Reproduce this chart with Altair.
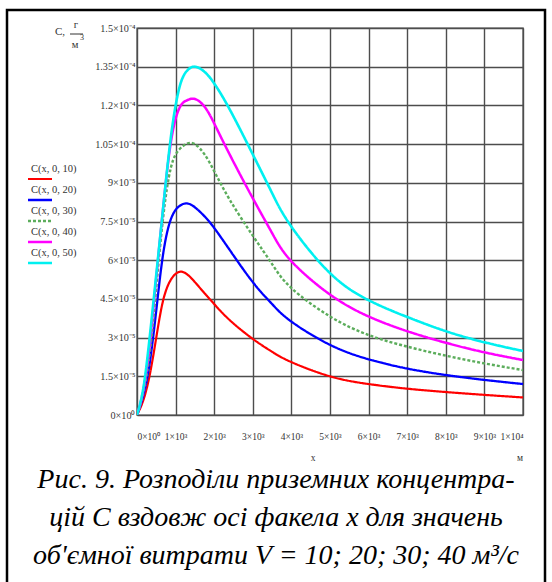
import altair as alt
import pandas as pd

# distance along plume axis, m
x_m = [0, 170, 340, 510, 680, 880, 1100, 1300, 1500, 1750, 2000, 2400, 3000, 3500,
       4000, 5000, 6000, 7000, 8000, 9000, 10000]
# ground concentrations, units of 1e-5 g/m^3
c10 = [0, 0.6, 1.63, 3.1, 4.46, 5.25, 5.55, 5.45, 5.15, 4.72, 4.3, 3.68, 2.95, 2.45,
       2.05, 1.5, 1.2, 1.02, 0.89, 0.78, 0.68]
c20 = [0, 0.8, 2.13, 4.2, 6.27, 7.6, 8.1, 8.2, 8.05, 7.7, 7.25, 6.4, 5.15, 4.3,
       3.62, 2.72, 2.16, 1.8, 1.55, 1.36, 1.2]
c30 = [0, 0.9, 2.52, 5.1, 7.69, 9.6, 10.3, 10.52, 10.5, 10.1, 9.45, 8.35, 6.95, 5.85,
       4.92, 3.82, 3.1, 2.65, 2.3, 2.0, 1.74]
c40 = [0, 1.0, 2.91, 5.5, 8.07, 10.6, 11.9, 12.2, 12.25, 11.95, 11.3, 10.1, 8.4, 7.05,
       5.96, 4.67, 3.82, 3.25, 2.8, 2.43, 2.13]
c50 = [0, 1.1, 3.17, 5.6, 8.07, 10.8, 12.7, 13.35, 13.5, 13.3, 12.85, 11.85, 10.1, 8.6,
       7.3, 5.5, 4.45, 3.8, 3.25, 2.82, 2.48]

series_names = ["C(x, 0, 10)", "C(x, 0, 20)", "C(x, 0, 30)", "C(x, 0, 40)", "C(x, 0, 50)"]
series_colors = ["#ff0000", "#0000ff", "#5cad5c", "#ff00ff", "#00f0f0"]
series_dash = [[1, 0], [1, 0], [3, 2], [1, 0], [1, 0]]
series_width = [2.2, 2.6, 1.1, 2.6, 2.6]

y_ticks = [0, 1.5, 3, 4.5, 6, 7.5, 9, 10.5, 12, 13.5, 15]
y_labels = ["0×10⁰", "1.5×10⁻⁵", "3×10⁻⁵", "4.5×10⁻⁵", "6×10⁻⁵", "7.5×10⁻⁵",
            "9×10⁻⁵", "1.05×10⁻⁴", "1.2×10⁻⁴", "1.35×10⁻⁴", "1.5×10⁻⁴"]
x_ticks = [0, 1000, 2000, 3000, 4000, 5000, 6000, 7000, 8000, 9000, 10000]
x_labels = ["0×10⁰", "1×10³", "2×10³", "3×10³", "4×10³", "5×10³", "6×10³",
            "7×10³", "8×10³", "9×10³", "1×10⁴"]

caption = ["Рис. 9. Розподіли приземних концентра-",
           "цій C вздовж осі факела x для значень",
           "об'ємної витрати V = 10; 20; 30; 40 м³/с"]

SERIF = "Liberation Serif"


def label_expr(ticks, labels):
    expr = "''"
    for t, l in reversed(list(zip(ticks, labels))):
        expr = f"abs(datum.value - {t}) < 1e-6 ? '{l}' : ({expr})"
    return expr


rows = []
for name, vals in zip(series_names, [c10, c20, c30, c40, c50]):
    for xv, cv in zip(x_m, vals):
        rows.append({"x": xv, "C": cv, "series": name})
df = pd.DataFrame(rows)

color_scale = alt.Scale(domain=series_names, range=series_colors)
dash_scale = alt.Scale(domain=series_names, range=series_dash)
width_scale = alt.Scale(domain=series_names, range=series_width)

W, H = 386, 387

lines = alt.Chart(df).mark_line(interpolate="natural", clip=True).encode(
    x=alt.X("x:Q", scale=alt.Scale(domain=[0, 10000], nice=False),
            axis=alt.Axis(values=x_ticks, labelExpr=label_expr(x_ticks, x_labels),
                          title=None, labelPadding=16, labelAngle=0, labelFontSize=9.5)),
    y=alt.Y("C:Q", scale=alt.Scale(domain=[0, 15], nice=False),
            axis=alt.Axis(values=y_ticks, labelExpr=label_expr(y_ticks, y_labels),
                          title=None, labelPadding=2, labelFontSize=10.2)),
    color=alt.Color("series:N", scale=color_scale, legend=None),
    strokeDash=alt.StrokeDash("series:N", scale=dash_scale, legend=None),
    strokeWidth=alt.StrokeWidth("series:N", scale=width_scale, legend=None),
)

leg_df = pd.DataFrame({"series": series_names, "row": list(range(len(series_names)))})
leg_y = alt.Y("row:Q", scale=alt.Scale(domain=[0, 4], range=[141, 225]), axis=None)

leg_text = alt.Chart(leg_df).mark_text(
    font=SERIF, fontSize=10.5, color="#333333", align="left", baseline="middle"
).encode(x=alt.value(-106), y=leg_y, text="series:N")

leg_line = alt.Chart(leg_df).mark_rule(yOffset=10).encode(
    x=alt.value(-109), x2=alt.value(-85), y=leg_y,
    color=alt.Color("series:N", scale=color_scale, legend=None),
    strokeDash=alt.StrokeDash("series:N", scale=dash_scale, legend=None),
    strokeWidth=alt.StrokeWidth("series:N", scale=width_scale, legend=None),
)

one = pd.DataFrame({"k": [0]})
base = alt.Chart(one)

frame = base.mark_rect(fill=None, stroke="black", strokeWidth=2.5).encode(
    x=alt.value(-130), x2=alt.value(408), y=alt.value(-18), y2=alt.value(560))

t_c = base.mark_text(font=SERIF, fontSize=11, color="#333333", align="left",
                     baseline="middle").encode(x=alt.value(-82), y=alt.value(4),
                                               text=alt.value("C,"))
t_g = base.mark_text(font=SERIF, fontSize=10.5, color="#333333",
                     baseline="middle").encode(x=alt.value(-61), y=alt.value(-3),
                                               text=alt.value("г"))
t_bar = base.mark_rule(color="#333333", strokeWidth=1).encode(
    x=alt.value(-67), x2=alt.value(-54), y=alt.value(6))
t_m = base.mark_text(font=SERIF, fontSize=10.5, color="#333333",
                     baseline="middle").encode(x=alt.value(-62), y=alt.value(17),
                                               text=alt.value("м"))
t_3 = base.mark_text(font=SERIF, fontSize=8, color="#333333",
                     baseline="middle").encode(x=alt.value(-55), y=alt.value(10),
                                               text=alt.value("3"))
t_x = base.mark_text(font=SERIF, fontSize=9.5, color="#333333",
                     baseline="middle").encode(x=alt.value(176), y=alt.value(430),
                                               text=alt.value("x"))
t_unit = base.mark_text(font=SERIF, fontSize=9.5, color="#333333",
                        baseline="middle").encode(x=alt.value(383), y=alt.value(430),
                                                  text=alt.value("м"))
cap = base.mark_text(font=SERIF, fontSize=28, fontStyle="italic", color="black",
                     align="center", baseline="alphabetic", lineHeight=38).encode(
    x=alt.value(139), y=alt.value(460), text=alt.value(caption))

chart = alt.layer(
    frame, lines, leg_text, leg_line, t_c, t_g, t_bar, t_m, t_3, t_x, t_unit, cap
).resolve_scale(y="independent").properties(
    width=W, height=H,
    autosize=alt.AutoSizeParams(type="none"),
    padding={"left": 137, "top": 28, "right": 552 - 137 - W, "bottom": 582 - 28 - H},
    background="white",
).configure_view(stroke="#4d4d4d", strokeWidth=1.4).configure_axis(
    grid=True, gridColor="#4d4d4d", gridWidth=1.4, gridOpacity=1,
    domain=False, ticks=False,
    labelFont=SERIF, labelColor="#333333",
)

chart.save("out.html", embed_options={"renderer": "svg", "actions": False})
